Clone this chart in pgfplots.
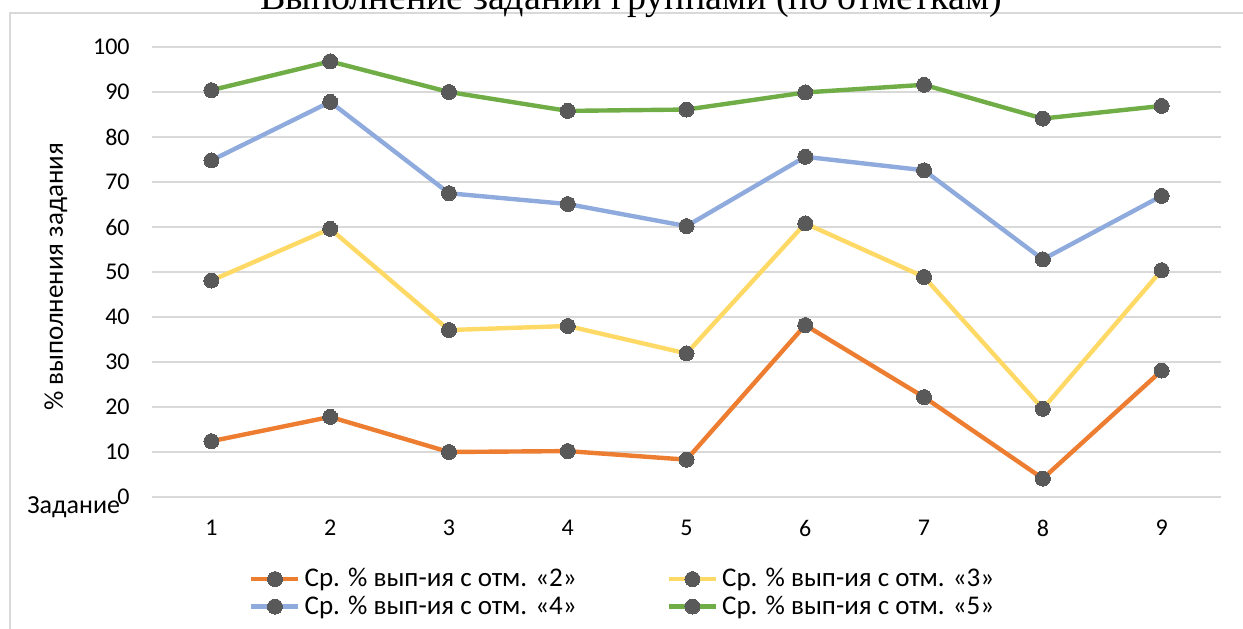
\documentclass[border=0pt]{standalone}
\usepackage{pgfplots}
\pgfplotsset{compat=1.18}
\usepackage{fontspec}
\setmainfont{Carlito}
\newfontfamily\titlefont{Liberation Serif}
\definecolor{s2}{HTML}{ED7D31}
\definecolor{s3}{HTML}{FFD966}
\definecolor{s4}{HTML}{8FAADC}
\definecolor{s5}{HTML}{70AD47}
\definecolor{markgray}{HTML}{595959}
\definecolor{gridgray}{HTML}{D9D9D9}
\begin{document}
\begin{tikzpicture}
% chart frame (runs off the right and bottom edge)
\draw[gridgray, line width=0.6pt] (5pt,-5pt) -- (5pt,307.5pt) -- (640pt,307.5pt);
\begin{axis}[
  scale only axis, width=534.5pt, height=225pt,
  at={(76pt,65.5pt)}, anchor=south west,
  xmin=0.5, xmax=9.5, ymin=0, ymax=100,
  xtick={1,...,9}, ytick={0,10,...,100},
  ymajorgrids, grid style={draw=gridgray, line width=0.75pt},
  axis line style={draw=none},
  major tick length=0pt,
  /pgf/number format/assume math mode=true,
  tick label style={font=\fontsize{12}{14}\selectfont, inner sep=0pt},
  yticklabel style={xshift=-11pt},
  xticklabel style={yshift=-11.5pt},
  every axis plot/.append style={line width=2.2pt, mark=*, mark size=3.75pt,
    mark options={fill=markgray, draw=markgray, line width=0pt}},
  legend columns=2,
  legend cell align=left,
  legend style={at={(0.085,-0.14)}, anchor=north west, draw=none, fill=none,
    font=\fontsize{13.5}{15}\selectfont, row sep=-1pt,
    /tikz/every even column/.append style={column sep=43pt}},
  legend image code/.code={\draw[mark repeat=2,mark phase=2,#1] plot coordinates {(0pt,0pt)(11.75pt,0pt)(23.5pt,0pt)};},
]
\addplot[s2] coordinates {(1,12.4)(2,17.8)(3,10.0)(4,10.2)(5,8.3)(6,38.2)(7,22.2)(8,4.1)(9,28.1)};
\addlegendentry{Ср. \% вып-ия с отм. «2»}
\addplot[s3] coordinates {(1,48.1)(2,59.6)(3,37.1)(4,38.0)(5,31.9)(6,60.8)(7,48.9)(8,19.6)(9,50.4)};
\addlegendentry{Ср. \% вып-ия с отм. «3»}
\addplot[s4] coordinates {(1,74.8)(2,87.8)(3,67.5)(4,65.1)(5,60.2)(6,75.6)(7,72.6)(8,52.8)(9,66.9)};
\addlegendentry{Ср. \% вып-ия с отм. «4»}
\addplot[s5] coordinates {(1,90.4)(2,96.8)(3,90.0)(4,85.8)(5,86.1)(6,89.9)(7,91.6)(8,84.1)(9,86.9)};
\addlegendentry{Ср. \% вып-ия с отм. «5»}
\end{axis}
\node[rotate=90, font=\fontsize{13.5}{15}\selectfont, inner sep=0pt] at (28pt,175.5pt) {\% выполнения задания};
\node[anchor=base west, font=\fontsize{13}{15}\selectfont, inner sep=0pt] at (13.5pt,57.5pt) {Задание};
\node[anchor=base, font=\titlefont\fontsize{19}{21}\selectfont, inner sep=0pt] at (315.5pt,309pt) {Выполнение заданий группами (по отметкам)};
\pgfresetboundingbox
\path[use as bounding box] (0pt,0pt) rectangle (621.5pt,314pt);
\end{tikzpicture}
\end{document}
